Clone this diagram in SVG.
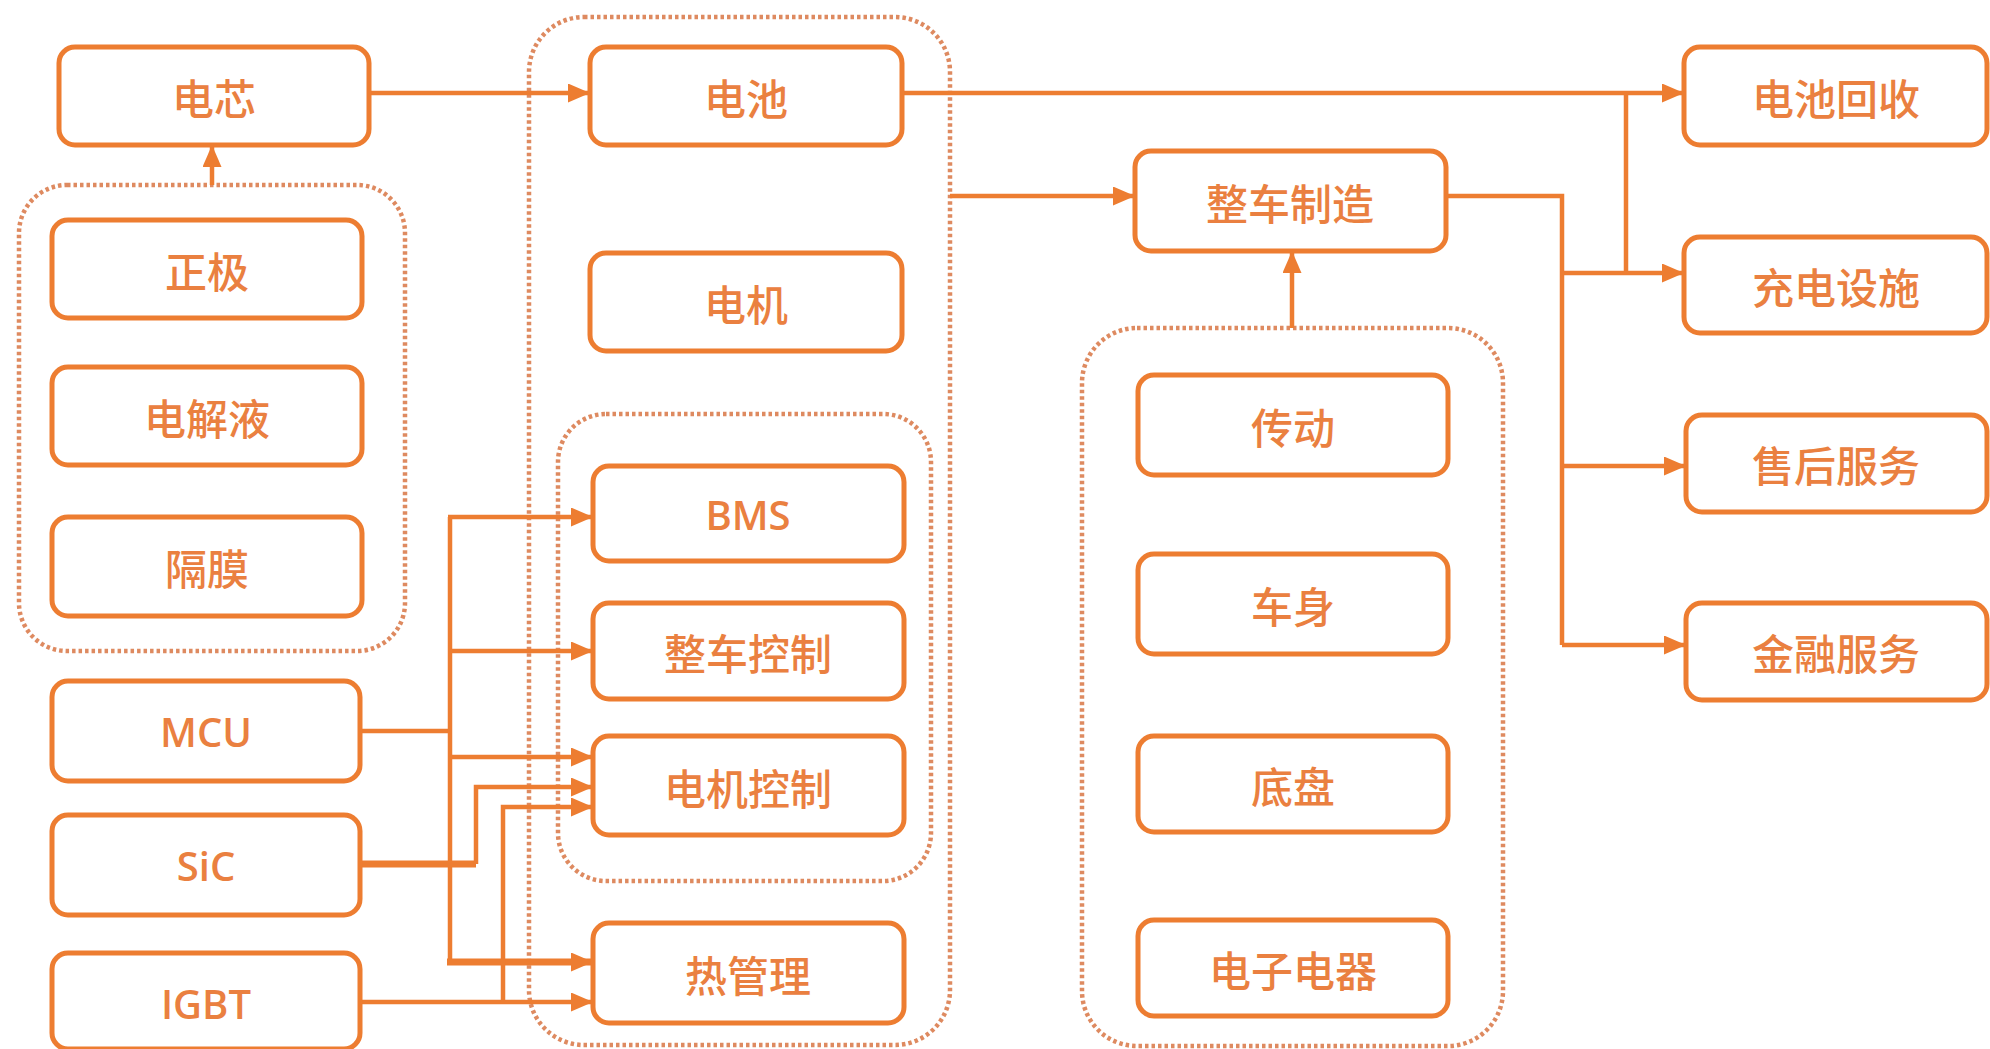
<svg xmlns="http://www.w3.org/2000/svg" width="1990" height="1049" viewBox="0 0 1990 1049">
<style>
  .bg{fill:#ffffff}
  .grp{fill:none;stroke:#DE8A60;stroke-width:4.5;stroke-dasharray:3.5 3}
  .box{fill:#ffffff;stroke:#ED7D31;stroke-width:5}
  .ln{fill:none;stroke:#ED7D31;stroke-width:4.5;stroke-linejoin:miter}
  .thk{stroke-width:7}
  .arr{marker-end:url(#ah)}
  .t{font-family:"Noto Sans CJK SC","Noto Sans",sans-serif;font-size:42px;font-weight:500;fill:#EA8040;text-anchor:middle;dominant-baseline:central}
  .tl{font-family:"Open Sans","Noto Sans",sans-serif;font-size:40px;font-weight:600;fill:#EA8040;text-anchor:middle;dominant-baseline:central}
</style>
<defs>
  <marker id="ah" markerUnits="userSpaceOnUse" markerWidth="22" markerHeight="19" refX="22" refY="9.5" orient="auto">
    <path d="M0,0 L22,9.5 L0,19 Z" fill="#ED7D31"/>
  </marker>
</defs>
<rect class="bg" x="0" y="0" width="1990" height="1049"/>

<g id="groups">
  <rect id="group-materials" class="grp" x="19" y="185" width="386" height="466" rx="48"/>
  <rect id="group-core" class="grp" x="529" y="17" width="421" height="1028" rx="55"/>
  <rect id="group-electronics" class="grp" x="558" y="414" width="373" height="467" rx="48"/>
  <rect id="group-vehicle" class="grp" x="1082" y="328" width="421" height="718" rx="55"/>
</g>

<g id="connectors">
  <line class="ln arr" x1="369" y1="93" x2="590" y2="93"/>
  <line class="ln arr" x1="212" y1="185" x2="212" y2="145"/>
  <line class="ln arr" x1="902" y1="93" x2="1684" y2="93"/>
  <line class="ln" x1="1626" y1="93" x2="1626" y2="273"/>
  <line class="ln arr" x1="950" y1="196" x2="1135" y2="196"/>
  <polyline class="ln" points="1446,196 1562,196 1562,645"/>
  <line class="ln arr" x1="1562" y1="273" x2="1684" y2="273"/>
  <line class="ln arr" x1="1562" y1="466" x2="1686" y2="466"/>
  <line class="ln arr" x1="1562" y1="645" x2="1686" y2="645"/>
  <line class="ln arr" x1="1292" y1="328" x2="1292" y2="251"/>

  <line class="ln" x1="360" y1="731" x2="450" y2="731"/>
  <line class="ln" x1="450" y1="517" x2="450" y2="962"/>
  <line class="ln arr" x1="448" y1="517" x2="593" y2="517"/>
  <line class="ln arr" x1="450" y1="651" x2="593" y2="651"/>
  <line class="ln arr" x1="450" y1="757" x2="593" y2="757"/>
  <line class="ln thk arr" x1="447" y1="962" x2="593" y2="962"/>
  <polyline class="ln thk" points="360,864 476,864"/>
  <polyline class="ln arr" points="476,864 476,787 593,787"/>
  <line class="ln arr" x1="360" y1="1002" x2="593" y2="1002"/>
  <polyline class="ln arr" points="503,1002 503,807 593,807"/>
</g>

<g id="node-dianxin"><rect class="box" x="59" y="47" width="310" height="98" rx="16"/><text class="t" x="214" y="96">电芯</text></g>
<g id="node-zhengji"><rect class="box" x="52" y="220" width="310" height="98" rx="16"/><text class="t" x="207" y="269">正极</text></g>
<g id="node-dianjieye"><rect class="box" x="52" y="367" width="310" height="98" rx="16"/><text class="t" x="207" y="416">电解液</text></g>
<g id="node-gemo"><rect class="box" x="52" y="517" width="310" height="99" rx="16"/><text class="t" x="207" y="566">隔膜</text></g>
<g id="node-mcu"><rect class="box" x="52" y="681" width="308" height="100" rx="16"/><text class="tl" x="206" y="731">MCU</text></g>
<g id="node-sic"><rect class="box" x="52" y="815" width="308" height="100" rx="16"/><text class="tl" x="206" y="865">SiC</text></g>
<g id="node-igbt"><rect class="box" x="52" y="953" width="308" height="96" rx="16"/><text class="tl" x="206" y="1003">IGBT</text></g>

<g id="node-dianchi"><rect class="box" x="590" y="47" width="312" height="98" rx="16"/><text class="t" x="746" y="96">电池</text></g>
<g id="node-dianji"><rect class="box" x="590" y="253" width="312" height="98" rx="16"/><text class="t" x="746" y="302">电机</text></g>
<g id="node-bms"><rect class="box" x="593" y="466" width="311" height="95" rx="16"/><text class="tl" x="748" y="514">BMS</text></g>
<g id="node-zhengchekongzhi"><rect class="box" x="593" y="603" width="311" height="96" rx="16"/><text class="t" x="748" y="651">整车控制</text></g>
<g id="node-dianjikongzhi"><rect class="box" x="593" y="736" width="311" height="99" rx="16"/><text class="t" x="748" y="786">电机控制</text></g>
<g id="node-reguanli"><rect class="box" x="593" y="923" width="311" height="100" rx="16"/><text class="t" x="748" y="973">热管理</text></g>

<g id="node-zhengchezhizao"><rect class="box" x="1135" y="151" width="311" height="100" rx="16"/><text class="t" x="1290" y="201">整车制造</text></g>
<g id="node-chuandong"><rect class="box" x="1138" y="375" width="310" height="100" rx="16"/><text class="t" x="1293" y="425">传动</text></g>
<g id="node-cheshen"><rect class="box" x="1138" y="554" width="310" height="100" rx="16"/><text class="t" x="1293" y="604">车身</text></g>
<g id="node-dipan"><rect class="box" x="1138" y="736" width="310" height="96" rx="16"/><text class="t" x="1293" y="784">底盘</text></g>
<g id="node-dianzidianqi"><rect class="box" x="1138" y="920" width="310" height="96" rx="16"/><text class="t" x="1293" y="968">电子电器</text></g>

<g id="node-dianchihuishou"><rect class="box" x="1684" y="47" width="303" height="98" rx="16"/><text class="t" x="1836" y="96">电池回收</text></g>
<g id="node-chongdiansheshi"><rect class="box" x="1684" y="237" width="303" height="96" rx="16"/><text class="t" x="1836" y="285">充电设施</text></g>
<g id="node-shouhoufuwu"><rect class="box" x="1686" y="415" width="301" height="97" rx="16"/><text class="t" x="1836" y="463">售后服务</text></g>
<g id="node-jinrongfuwu"><rect class="box" x="1686" y="603" width="301" height="97" rx="16"/><text class="t" x="1836" y="651">金融服务</text></g>
</svg>
